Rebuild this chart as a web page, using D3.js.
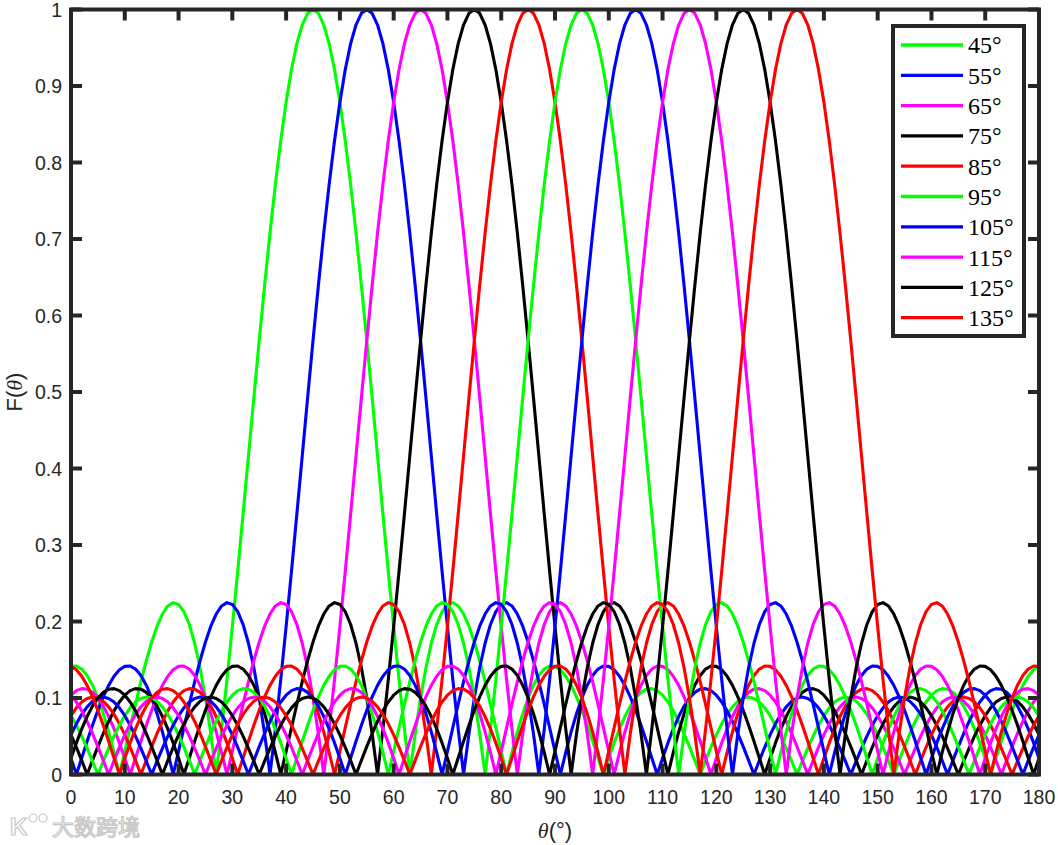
<!DOCTYPE html>
<html>
<head>
<meta charset="utf-8">
<script src="https://cdn.jsdelivr.net/npm/d3@7"></script>
<style>
body { margin: 0; background: #fff; }
svg { display: block; }
</style>
</head>
<body>
<div id="chart"></div>
<script>
// steering angles of the ten beams (legend order)
const steerAngles = [45, 55, 65, 75, 85, 95, 105, 115, 125, 135];
const legendLabels = ["45°", "55°", "65°", "75°", "85°", "95°", "105°", "115°", "125°", "135°"];
const lineColors = ["#00ff00", "#0000ff", "#ff00ff", "#000000", "#ff0000",
                    "#00ff00", "#0000ff", "#ff00ff", "#000000", "#ff0000"];

const lobeProfile = [
  1.0000, 0.9950, 0.9800, 0.9554, 0.9215, 0.8789, 0.8285, 0.7711, 0.7076, 0.6392,
  0.5671, 0.4925, 0.4165, 0.3405, 0.2657, 0.1932, 0.1241, 0.0594, 0.0000, 0.0533,
  0.1000, 0.1395, 0.1716, 0.1961, 0.2129, 0.2223, 0.2247, 0.2203, 0.2098, 0.1938,
  0.1732, 0.1487, 0.1213, 0.0918, 0.0612, 0.0303, 0.0000, 0.0289, 0.0556, 0.0795,
  0.1000, 0.1168, 0.1294, 0.1378, 0.1418, 0.1414, 0.1369, 0.1285, 0.1165, 0.1015,
  0.0839, 0.0643, 0.0434, 0.0217, 0.0000, 0.0212, 0.0413, 0.0596, 0.0758, 0.0894,
  0.1000, 0.1074, 0.1115, 0.1122, 0.1096, 0.1037, 0.0948, 0.0832, 0.0693, 0.0536,
  0.0364, 0.0184, 0.0000, 0.0182, 0.0356, 0.0518, 0.0662, 0.0786, 0.0885, 0.0957,
  0.1000, 0.1012, 0.0994, 0.0947, 0.0871, 0.0769, 0.0644, 0.0501, 0.0342, 0.0174,
  0.0000, 0.0174, 0.0342, 0.0501, 0.0644, 0.0769, 0.0871, 0.0947, 0.0994, 0.1012,
  0.1000, 0.0957, 0.0885, 0.0786, 0.0662, 0.0518, 0.0356, 0.0182, 0.0000, 0.0184,
  0.0364, 0.0536, 0.0693, 0.0832, 0.0948, 0.1037, 0.1096, 0.1122, 0.1115, 0.1074,
  0.1000, 0.0894, 0.0758, 0.0596, 0.0413, 0.0212, 0.0000, 0.0217, 0.0434, 0.0643,
  0.0839, 0.1015, 0.1165, 0.1285, 0.1369, 0.1414
];

const xTicks = [0, 10, 20, 30, 40, 50, 60, 70, 80, 90, 100, 110, 120, 130, 140, 150, 160, 170, 180];
const yTicks = [0, 0.1, 0.2, 0.3, 0.4, 0.5, 0.6, 0.7, 0.8, 0.9, 1];

let width = 1058, height = 845;
let padL = 71, padR = 1039, padT = 9.5, padB = 774.5;
let axisCol = "#262626";

let svg = d3.select("#chart").append("svg")
  .attr("width", width).attr("height", height);

let x = d3.scaleLinear().domain([0, 180]).range([padL, padR]);
let y = d3.scaleLinear().domain([0, 1]).range([padB, padT]);

svg.append("defs").append("clipPath").attr("id", "plotclip")
  .append("rect").attr("x", padL).attr("y", padT - 3)
  .attr("width", padR - padL).attr("height", padB - padT + 6);

// one series per beam: shared lobe profile placed at its steer angle
let series = steerAngles.map((a, i) => {
  let pts = [];
  for (let t = 0; t <= 180; t++) {
    pts.push([t, lobeProfile[Math.abs(t - a)]]);
  }
  return { angle: a, label: legendLabels[i], color: lineColors[i], pts: pts };
});

let line = d3.line().x(d => x(d[0])).y(d => y(d[1]));

svg.append("g").attr("clip-path", "url(#plotclip)")
  .selectAll("path").data(series).enter()
  .append("path")
  .attr("d", d => line(d.pts))
  .attr("fill", "none")
  .attr("stroke", d => d.color)
  .attr("stroke-width", 3.1)
  .attr("stroke-linejoin", "round");

// axes box with inward ticks (MATLAB style)
let frame = svg.append("g");
frame.append("rect")
  .attr("x", padL).attr("y", padT)
  .attr("width", padR - padL).attr("height", padB - padT)
  .attr("fill", "none").attr("stroke", axisCol).attr("stroke-width", 4);

let tl = 11;
xTicks.forEach(t => {
  frame.append("line").attr("x1", x(t)).attr("x2", x(t)).attr("y1", padB).attr("y2", padB - tl)
    .attr("stroke", axisCol).attr("stroke-width", 4);
  frame.append("line").attr("x1", x(t)).attr("x2", x(t)).attr("y1", padT).attr("y2", padT + tl)
    .attr("stroke", axisCol).attr("stroke-width", 4);
  frame.append("text").attr("x", x(t)).attr("y", 804)
    .attr("text-anchor", "middle")
    .style("font", "19.5px 'Liberation Sans', Arial, sans-serif").style("fill", axisCol)
    .text(t);
});
yTicks.forEach(t => {
  frame.append("line").attr("x1", padL).attr("x2", padL + tl).attr("y1", y(t)).attr("y2", y(t))
    .attr("stroke", axisCol).attr("stroke-width", 4);
  frame.append("line").attr("x1", padR).attr("x2", padR - tl).attr("y1", y(t)).attr("y2", y(t))
    .attr("stroke", axisCol).attr("stroke-width", 4);
  frame.append("text").attr("x", 62).attr("y", y(t)).attr("dy", "0.36em")
    .attr("text-anchor", "end")
    .style("font", "19.5px 'Liberation Sans', Arial, sans-serif").style("fill", axisCol)
    .text(t);
});

// axis titles
let xt = svg.append("text").attr("x", (padL + padR) / 2).attr("y", 838)
  .attr("text-anchor", "middle")
  .style("font", "22px 'Liberation Sans', Arial, sans-serif").style("fill", axisCol);
xt.append("tspan").style("font-family", "'Liberation Serif', serif").style("font-style", "italic").text("θ");
xt.append("tspan").text("(°)");

let yt = svg.append("text")
  .attr("transform", `translate(22,${(padT + padB) / 2}) rotate(-90)`)
  .attr("text-anchor", "middle")
  .style("font", "22px 'Liberation Sans', Arial, sans-serif").style("fill", axisCol);
yt.append("tspan").text("F(");
yt.append("tspan").style("font-family", "'Liberation Serif', serif").style("font-style", "italic").text("θ");
yt.append("tspan").text(")");

// legend
let lg = svg.append("g");
lg.append("rect").attr("x", 893).attr("y", 26).attr("width", 131).attr("height", 310)
  .attr("fill", "#fff").attr("stroke", axisCol).attr("stroke-width", 4);
series.forEach((s, i) => {
  let ly = 45 + i * 30.3;
  lg.append("line").attr("x1", 901).attr("x2", 963).attr("y1", ly).attr("y2", ly)
    .attr("stroke", s.color).attr("stroke-width", 3.3);
  lg.append("text").attr("x", 968).attr("y", ly).attr("dy", "0.35em")
    .style("font", "24px 'Liberation Serif', 'Times New Roman', serif").style("fill", "#000")
    .text(s.label);
});

// watermark
let wm = svg.append("g").style("fill", "#fff").style("stroke", "#c8c8c8").style("stroke-width", 1.2);
wm.append("text").attr("x", 10).attr("y", 835)
  .style("font", "bold 24px 'Liberation Sans', sans-serif").text("K");
wm.append("circle").attr("cx", 33).attr("cy", 818).attr("r", 4);
wm.append("circle").attr("cx", 43).attr("cy", 818).attr("r", 4);
wm.append("text").attr("x", 52).attr("y", 835)
  .style("font", "22px 'Noto Sans CJK SC', sans-serif")
  .text("大数跨境");
</script>
</body>
</html>
